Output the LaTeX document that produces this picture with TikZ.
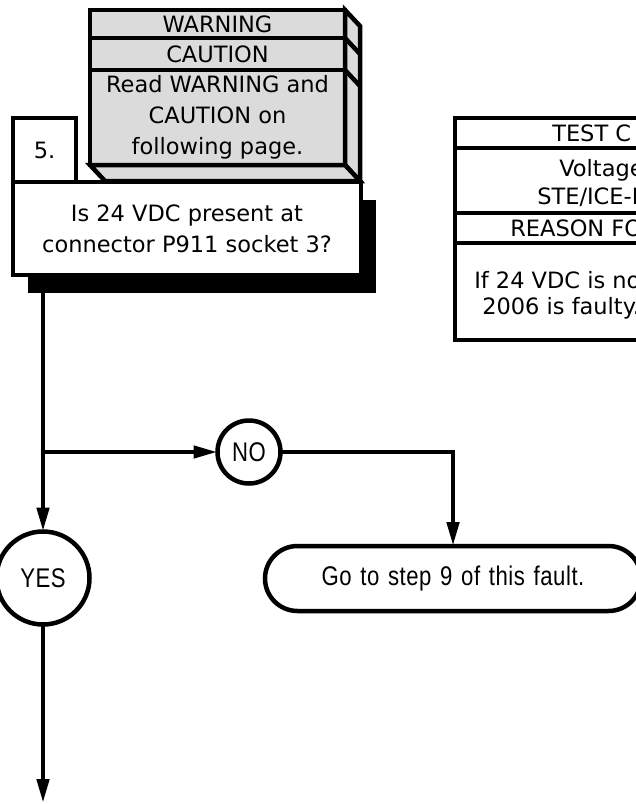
\documentclass[tikz,border=0pt]{standalone}
\usepackage{fontspec}
\setmainfont{DejaVu Sans}
\newfontfamily\condfont[FakeStretch=0.82,LetterSpace=2,WordSpace=1.3]{Liberation Sans}
\usetikzlibrary{arrows.meta,shapes.misc,shadows,positioning}

\begin{document}
\begin{tikzpicture}[x=1pt,y=-1pt,line width=4.5pt,
    box/.style={draw,fill=white,inner sep=0pt,outer sep=0pt,align=center,
      font=\fontsize{22.5}{31}\selectfont},
    notebox/.style={box,fill=black!14},
    answer/.style={draw,circle,fill=white,inner sep=0pt,outer sep=0pt,
      font=\condfont\fontsize{27}{30}\selectfont},
    tabtext/.style={anchor=west,inner sep=0pt,font=\fontsize{22.5}{28}\selectfont},
    flow/.style={-{Triangle[length=24pt,width=12pt]}}]
  \useasboundingbox (0,0) rectangle (636,804);
  \clip (0,0) rectangle (636,804);

  % warning / caution block with its side and bottom faces
  \node[notebox,minimum width=255pt,minimum height=28pt,anchor=north west] (warning) at (90,10) {WARNING};
  \node[notebox,minimum width=255pt,minimum height=32pt,anchor=north] (caution) at (warning.south) {CAUTION};
  \node[notebox,minimum width=255pt,minimum height=95pt,anchor=north] (read) at (caution.south)
    {Read WARNING and\\CAUTION on\\following page.};
  \filldraw[fill=black!14] (warning.north east) -- ++(15,16) -- ([shift={(15,16)}]read.south east)
    -- (read.south east) -- cycle;
  \filldraw[fill=black!14] (read.south west) -- ++(15,16) -- ([shift={(15,16)}]read.south east)
    -- (read.south east) -- cycle;
  \draw (caution.north east) -- ++(15,16);
  \draw (read.north east) -- ++(15,16);

  % step 5
  \node[box,minimum width=348pt,minimum height=93pt,anchor=north west,
    drop shadow={shadow xshift=15pt,shadow yshift=-18pt,opacity=1,fill=black}] (question) at (13,182)
    {Is 24 VDC present at\\connector P911 socket 3?};
  \node[box,minimum width=63pt,minimum height=64pt,anchor=south west] (stepnum) at (question.north west) {5.};

  % test table
  \draw (455,118) rectangle (700,340);
  \foreach \y in {148,213,243}
    \draw (455,\y) -- (700,\y);
  \node[tabtext] (testhead) at (550,133) {TEST C};
  \node[tabtext] (testline1) at (557,170) {Voltage};
  \node[tabtext] (testline2) at (535,197) {STE/ICE-R};
  \node[tabtext] (reasonhead) at (508,228) {REASON FO};
  \node[tabtext] (reason1) at (472,280) {If 24 VDC is not};
  \node[tabtext] (reason2) at (480,308) {2006 is faulty.};

  % answers
  \coordinate (split) at (43,452);
  \coordinate (exit) at (43,803);
  \node[answer,minimum size=63pt] (no) at (249,452) {NO};
  \node[answer,minimum size=93pt] (yes) at (43,578) {YES};
  \node[draw,rounded rectangle,fill=white,minimum width=376pt,minimum height=65pt,inner sep=0pt,
    outer sep=0pt,font=\condfont\fontsize{27}{30}\selectfont] (goto) at (453,578.5) {Go to step 9 of this fault.};

  \draw[flow] (question.south -| split) -- (yes);
  \draw[flow] (split) -- (no);
  \draw[flow] (no) -| (goto);
  \draw[flow] (yes) -- (exit);
\end{tikzpicture}
\end{document}
